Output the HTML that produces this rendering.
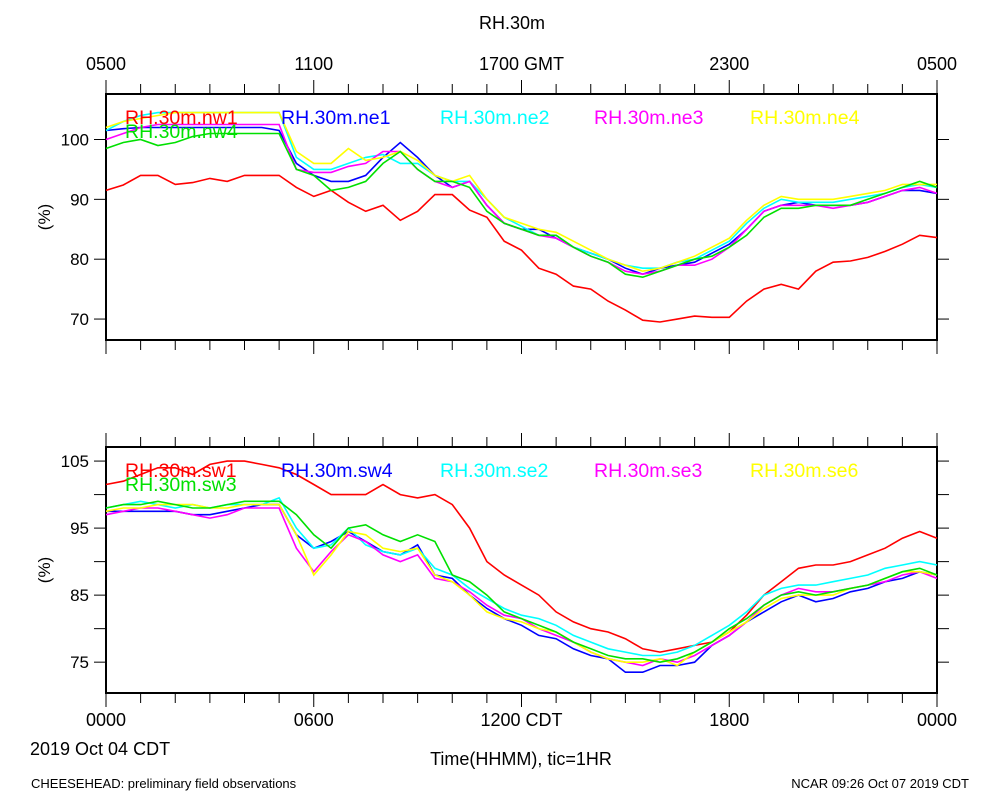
<!DOCTYPE html>
<html><head><meta charset="utf-8"><style>
body{margin:0;background:#fff;font-family:"Liberation Sans",sans-serif}
svg text{font-family:"Liberation Sans",sans-serif}
</style></head><body>
<svg id="c" width="1000" height="800" xmlns="http://www.w3.org/2000/svg">
<text x="512" y="29" font-size="18" text-anchor="middle">RH.30m</text>
<text x="521" y="765" font-size="18" text-anchor="middle">Time(HHMM), tic=1HR</text>
<text x="30" y="755" font-size="18">2019 Oct 04 CDT</text>
<text x="31" y="788" font-size="13">CHEESEHEAD: preliminary field observations</text>
<text x="969" y="788" font-size="13" text-anchor="end">NCAR 09:26 Oct 07 2019 CDT</text>
</svg>
<script>
const hours=[0,0.5,1,1.5,2,2.5,3,3.5,4,4.5,5,5.5,6,6.5,7,7.5,8,8.5,9,9.5,10,10.5,11,11.5,12,12.5,13,13.5,14,14.5,15,15.5,16,16.5,17,17.5,18,18.5,19,19.5,20,20.5,21,21.5,22,22.5,23,23.5,24];
const topLabels=["0500","1100","1700 GMT","2300","0500"];
const botLabels=["0000","0600","1200 CDT","1800","0000"];
const topTicks=[70,80,90,100];
const botTicks=[75,80,85,90,95,100,105];
const botTickLabels=[75,85,95,105];
const nw1=[91.5,92.4,94,94,92.5,92.8,93.5,93,94,94,94,92,90.5,91.5,89.5,88,89,86.5,88,90.8,90.8,88.2,87,83,81.5,78.5,77.5,75.5,75,73,71.5,69.8,69.5,70,70.5,70.3,70.3,73,75,75.8,75,78,79.5,79.7,80.3,81.3,82.5,84,83.6];
const ne1=[101.5,101.8,102,102,102,102,102,102,102,102,101.5,96,94,93,93,94,97,99.5,97,94,92,93,89,86,85,85,83.5,82,81,80,78.5,77.5,78.5,79,79.5,81,82.5,85,88,89,89.5,89,89,89,89.5,90.5,91.5,91.5,91];
const ne2=[101.5,103,104,104.5,104.5,104.5,104.5,104.5,104.5,104.5,104.5,97,95,95,96,97,97.5,96,96,94,93,93,90,87,85.5,84,84,82,81,80,79,78.5,78.5,79.5,80,81.5,83,86,88.5,90,89.5,89.5,89.5,90,90.5,91,92,92.5,92];
const ne3=[100,101,102,102.5,102.5,102.5,102.5,102.5,102.5,102.5,102.5,95,94.5,94.5,95.5,96,98,98,95,93,92,93,89,86,85,84,83.5,82,80.5,79.5,78,77.5,78,79,79,80,82,85,88,89,89,89,88.5,89,89.5,90.5,91.5,92,91];
const ne4=[102,103,103.5,104,104.5,104.5,104.5,104.5,104.5,104.5,104.5,98,96,96,98.5,96.5,97,98,96.5,94,93,94,90,87,86,85,84.5,83,81.5,80,79,78,78.5,79.5,80.5,82,83.5,86.5,89,90.5,90,90,90,90.5,91,91.5,92.5,92.5,92.5];
const nw4=[98.5,99.5,100,99,99.5,100.5,101,101,101,101,101,95,94,91.5,92,93,96,98,95,93,93,92,88,86,85,84,84,82,80.5,79.5,77.5,77,78,79,80,80.5,82,84,87,88.5,88.5,89,89,89,90,91,92,93,92];
const sw1=[101.5,102,103,104,104,103,104.5,105,105,104.5,104,103,101.5,100,100,100,101.5,100,99.5,100,98.5,95,90,88,86.5,85,82.5,81,80,79.5,78.5,77,76.5,77,77.5,78,79.5,82,85,87,89,89.5,89.5,90,91,92,93.5,94.5,93.5];
const sw4=[97.5,97.5,97.5,97.5,97.5,97,97,97.5,98,98.5,98.5,94,92,93,94.5,93,91.5,91,92.5,88,87.5,85,83,81.5,80.5,79,78.5,77,76,75.5,73.5,73.5,74.5,74.5,75,77.5,79,81,82.5,84,85,84,84.5,85.5,86,87,87.5,88.5,88];
const se2=[98,98.5,99,98.5,98,98.5,98,98.5,98.5,98.5,99.5,95,92,92.5,95,92.5,91.5,91,92,89,88,86,84.5,83,82,81.5,80.5,79,78,77,76.5,76,76,76.5,77.5,79,80.5,82.5,85,86,86.5,86.5,87,87.5,88,89,89.5,90,89.5];
const se3=[97,97.5,98,98,97.5,97,96.5,97,98,98,98,92,88.5,91.5,94,93,91,90,91,87.5,87,85.5,83.5,82,81.5,80,79,78,76.5,75.5,75,74.5,75.5,75,76,77.5,79,81,83.5,85,86,85.5,85.5,86,86.5,87,88,88.5,87.5];
const sw3=[98,98.5,98.5,99,98.5,98,98,98.5,99,99,99,97,94,92,95,95.5,94,93,94,93,88,87,85,82.5,81.5,80.5,79.5,78,77,76,75.5,75.5,75,75.5,76.5,78,80,81.5,83.5,85,85.5,85,85.5,86,86.5,87.5,88.5,89,88];
const se6=[97.5,98,98,98.5,98.5,98.5,98,98,98.5,98.5,98.5,94,88,91,94.5,94,92,91.5,92,88,87,85,82.5,81.5,81,80,79.5,78,76.5,75.5,75,75,75.5,74.5,76.5,78,79.5,81,83,84.5,85,85,85,86,86.5,87.5,88.5,88.5,88];
const NS="http://www.w3.org/2000/svg";
const svg=document.getElementById('c');
const X0=106,X1=937;
const xs=h=>X0+(X1-X0)*h/24;
function mk(tag,attrs,parent){const e=document.createElementNS(NS,tag);for(const k in attrs)e.setAttribute(k,attrs[k]);(parent||svg).appendChild(e);return e;}
function panel(name,yT,yB,vT,vB,ticks,tlabels,series,xlabels,xly){
  const g=mk('g',{});
  
  
  const ys=v=>yT+(vT-v)/(vT-vB)*(yB-yT);
  const fr=mk('rect',{x:X0,y:yT,width:X1-X0,height:yB-yT,fill:'none',stroke:'#000','stroke-width':2},g);
  
  
  for(let h=0;h<=24;h++){
    const L=h%6===0?14:10;
    const t1=mk('line',{x1:xs(h),x2:xs(h),y1:yT,y2:yT-L,stroke:'#000','stroke-width':1},g);
    
    
    const t2=mk('line',{x1:xs(h),x2:xs(h),y1:yB,y2:yB+L,stroke:'#000','stroke-width':1},g);
    
    
  }
  ticks.forEach(v=>{
    const y=ys(v);
    const t=mk('line',{x1:X0,x2:X0-12,y1:y,y2:y,stroke:'#000'},g);
    
    
    const t2=mk('line',{x1:X1,x2:X1+12,y1:y,y2:y,stroke:'#000'},g);
    
    
  });
  tlabels.forEach(v=>{
    const t=mk('text',{x:89,y:ys(v)+6,'font-size':17,'text-anchor':'end'},g);
    t.textContent=v;
    
    
  });
  const yl=mk('text',{x:0,y:0,'font-size':17,'text-anchor':'middle',transform:`translate(50,${(yT+yB)/2}) rotate(-90)`},g);
  yl.textContent='(%)';
  
  
  xlabels.forEach((s,i)=>{
    const t=mk('text',{x:xs(i*6),y:xly,'font-size':18,'text-anchor':'middle'},g);
    t.textContent=s;
    
    
  });
  const lx=[125,281,440,594,750];
  series.forEach((s,i)=>{
    const d=s.data.map((v,j)=>(j?'L':'M')+xs(hours[j]).toFixed(1)+' '+ys(v).toFixed(1)).join(' ');
    const p=mk('path',{d:d,fill:'none',stroke:s.color,'stroke-width':1.6},g);
    
    
  });
  series.forEach((s,i)=>{
    const x=i<5?lx[i]:lx[0], y=i<5?yT+30:yT+44;
    const t=mk('text',{x:x,y:y,'font-size':19.5,fill:s.color},g);
    t.textContent=s.name;
    
    
  });
}
panel('top-panel',94,340,107.6,66.5,topTicks,[70,80,90,100],[
 {name:'RH.30m.nw1',color:'#ff0000',data:nw1},
 {name:'RH.30m.ne1',color:'#0000ff',data:ne1},
 {name:'RH.30m.ne2',color:'#00ffff',data:ne2},
 {name:'RH.30m.ne3',color:'#ff00ff',data:ne3},
 {name:'RH.30m.ne4',color:'#ffff00',data:ne4},
 {name:'RH.30m.nw4',color:'#00e000',data:nw4}],topLabels,70);
panel('bottom-panel',447,693,107.1,70.4,botTicks,botTickLabels,[
 {name:'RH.30m.sw1',color:'#ff0000',data:sw1},
 {name:'RH.30m.sw4',color:'#0000ff',data:sw4},
 {name:'RH.30m.se2',color:'#00ffff',data:se2},
 {name:'RH.30m.se3',color:'#ff00ff',data:se3},
 {name:'RH.30m.se6',color:'#ffff00',data:se6},
 {name:'RH.30m.sw3',color:'#00e000',data:sw3}],botLabels,726);
</script>
</body></html>
